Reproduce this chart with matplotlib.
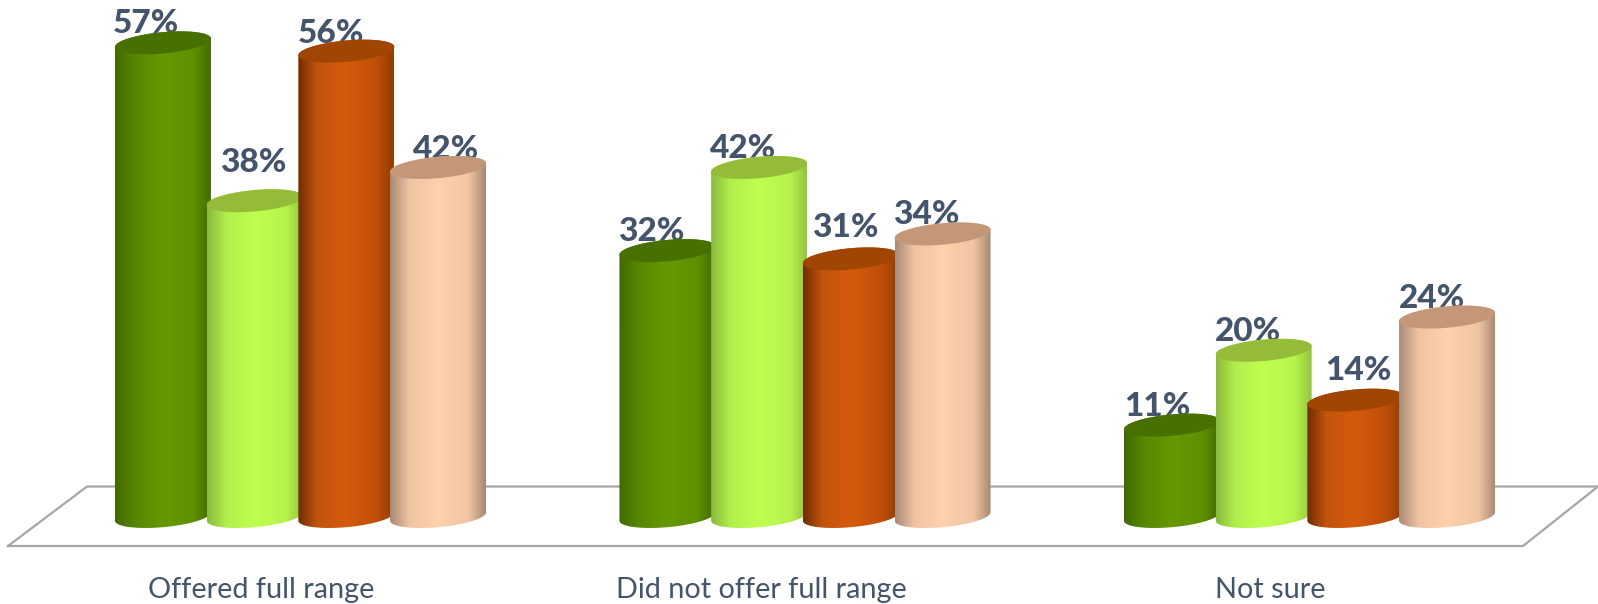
import numpy as np
import matplotlib
matplotlib.use('Agg')
import matplotlib.pyplot as plt
from matplotlib.colors import LinearSegmentedColormap
from matplotlib.path import Path
from matplotlib.patches import PathPatch

plt.rcParams['font.family'] = ['Lato', 'DejaVu Sans']

# values
categories = ['Offered full range', 'Did not offer full range', 'Not sure']
series_1 = [57, 32, 11]
series_2 = [38, 42, 20]
series_3 = [56, 31, 14]
series_4 = [42, 34, 24]

# side shading (left edge to right edge) and colour of the cylinder top
shades = [
    ['#406900', '#578600', '#669900', '#608f00', '#426c00'],
    ['#8cb93f', '#b2ee4c', '#bfff4f', '#b6f34c', '#94c43e'],
    ['#6f2c00', '#c2540e', '#d55b0c', '#bf4f08', '#8f3d04'],
    ['#a98a76', '#f0c3a3', '#ffd1ac', '#f0c5a3', '#a58873'],
]
tops = ['#487000', '#94bc38', '#a14504', '#c49779']
stops = [0, 0.2, 0.5, 0.82, 1]

# label offsets from the top of each cylinder, in pixels
label_dx = [[-17, -16.5, -15], [-1, -16, -16], [-15, -6, 3], [8, -16.6, -15]]
label_dy = [[19, 18.6, 19], [38, 18.5, 19], [18, 31, 30], [17.5, 19, 19]]

W, H = 1598, 604
px_per_group = 504.5
px_per_pct = 8.31
x0_px = 300.5
base_px = 516.5

fig = plt.figure(figsize=(W / 100, H / 100), dpi=100)
ax = fig.add_axes([0, 0, 1, 1])
ax.axis('off')

xlim = (-x0_px / px_per_group, (W - x0_px) / px_per_group)
ylim = (-(H - base_px) / px_per_pct, base_px / px_per_pct)

step = 91.7 / px_per_group
half_w = 48 / px_per_group
tilt = 4.2 / px_per_pct
minor = 10.7 / px_per_pct

# floor, in pixel positions of the figure
floor_x = np.array([8, 87, W, W, 1523, 8]) / W
floor_y = 1 - np.array([546, 486.5, 486.5, 486.5, 546, 546]) / H
ax.plot(floor_x[:3], floor_y[:3], transform=ax.transAxes, color='#a6a6a6', lw=1.6, zorder=1, clip_on=False)
ax.plot(floor_x[3:], floor_y[3:], transform=ax.transAxes, color='#a6a6a6', lw=1.6, zorder=1, clip_on=False)

all_series = [series_1, series_2, series_3, series_4]
t = np.linspace(0, 2 * np.pi, 181)
z = 3
for g in range(len(categories)):
    for j, values in enumerate(all_series):
        cx = g + (j - 1.5) * step
        v = values[g]
        ex = cx + half_w * np.cos(t)
        # sheared ellipse: the right side sits higher than the left
        ey = tilt * np.cos(t) + minor * np.sin(t)

        ax.annotate(f'{v}%', xy=(cx, v), xytext=(label_dx[j][g], label_dy[j][g]),
                    textcoords='offset pixels', ha='center', va='center',
                    fontsize=24, fontweight='black', color='#44546a', zorder=2)

        # body outline: bottom front arc then back along the top
        lower = t[91:]
        bx = cx + half_w * np.cos(lower)
        by = tilt * np.cos(lower) + minor * np.sin(lower)
        upper = t[:91]
        ux = cx + half_w * np.cos(upper)
        uy = v + tilt * np.cos(upper) + minor * np.sin(upper)
        body = Path(np.column_stack([np.r_[bx, ux], np.r_[by, uy]]))

        cmap = LinearSegmentedColormap.from_list('side', list(zip(stops, shades[j])))
        im = ax.imshow(np.linspace(0, 1, 256).reshape(1, -1), cmap=cmap, aspect='auto',
                       extent=(cx - half_w, cx + half_w, -5, 65), zorder=z,
                       interpolation='bilinear')
        im.set_clip_path(body, ax.transData)

        cap = Path(np.column_stack([ex, v + ey]))
        ax.add_patch(PathPatch(cap, facecolor=tops[j], edgecolor='none', zorder=z + 0.5))
        z += 1

label_x = [-0.078, 0.914, 1.922]
for g, name in enumerate(categories):
    ax.text(label_x[g], -8.9, name, ha='center', va='center', fontsize=20.8, color='#44546a', zorder=2)

ax.set_xlim(*xlim)
ax.set_ylim(*ylim)

fig.savefig('out.png', dpi=100)
